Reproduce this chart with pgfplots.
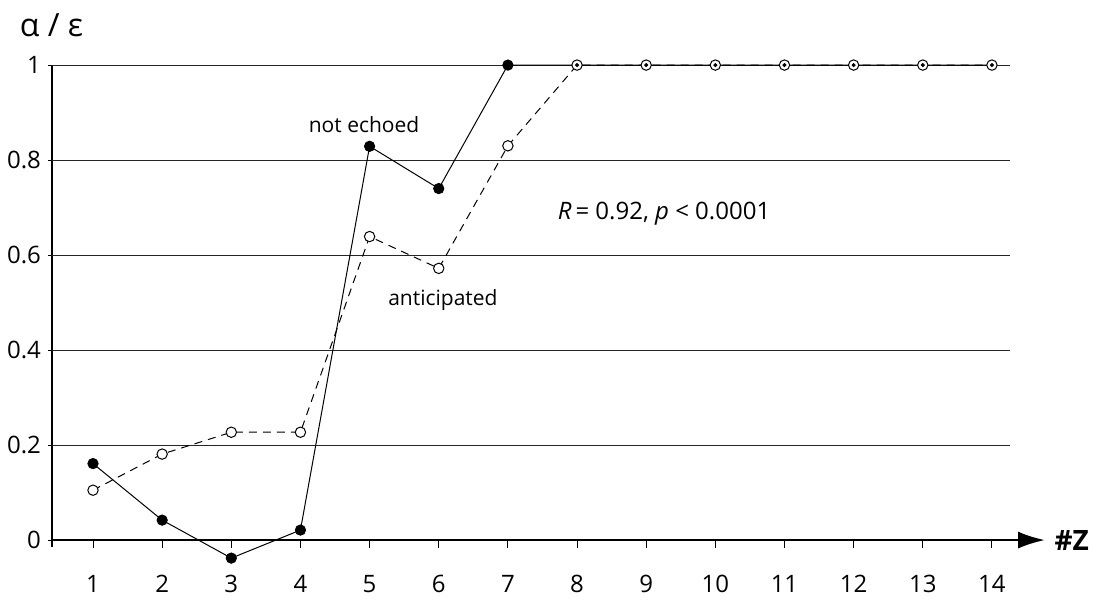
\documentclass[border=0pt]{standalone}
\usepackage{pgfplots}
\usepackage{pgfplotstable}
\pgfplotsset{compat=1.18}
\usepackage{fontspec}
\setmainfont{Open Sans}
\usetikzlibrary{arrows.meta}

% #Z, not echoed, anticipated
\pgfplotstableread{
z  echo   ant
1  0.161  0.105
2  0.042  0.181
3  -0.038 0.227
4  0.021  0.227
5  0.829  0.639
6  0.740  0.572
7  1.000  0.830
8  1.000  1.000
9  1.000  1.000
10 1.000  1.000
11 1.000  1.000
12 1.000  1.000
13 1.000  1.000
14 1.000  1.000
}\zdata

\begin{document}
\begin{tikzpicture}
\begin{axis}[
    x=34.575pt, y=237.5pt,
    xmin=0.407, xmax=14.77,
    ymin=-0.015, ymax=1,
    clip=false,
    axis x line=middle, axis y line=left,
    x axis line style={line width=1.3pt, -{Latex[length=13.5pt,width=8.5pt]}},
    y axis line style={line width=1.3pt, -},
    xtick={1,...,14},
    ytick={0,0.2,0.4,0.6,0.8,1},
    x tick style={line width=0.5pt, black},
    y tick style={line width=0.5pt, black},
    xtick align=outside, ytick align=center,
    major tick length=4pt,
    tick label style={font=\fontsize{12}{14}\selectfont},
    xticklabel style={yshift=-10pt},
    /pgf/number format/assume math mode=true,
]
% horizontal grid
\foreach \g in {0.2,0.4,0.6,0.8,1}{
  \edef\tmp{\noexpand\draw[black!85, line width=0.5pt] (axis cs:0.407,\g) -- (axis cs:14.26,\g);}
  \tmp
}
\addplot[black, line width=0.5pt, mark=none] table[x=z, y=echo] {\zdata};
\addplot[black, line width=0.5pt, dash pattern=on 4pt off 3pt,
    mark=*, mark size=2.6pt, mark options={solid, fill=white, line width=0.5pt}]
    table[x=z, y=ant] {\zdata};
\addplot[only marks, mark=*, mark size=2.6pt, black, restrict x to domain=1:7]
    table[x=z, y=echo] {\zdata};
\addplot[only marks, mark=*, mark size=0.8pt, black, restrict x to domain=8:14]
    table[x=z, y=echo] {\zdata};

\node[font=\fontsize{10.5}{13}\selectfont] at (axis cs:4.92,0.874) {not echoed};
\node[font=\fontsize{10.5}{13}\selectfont] at (axis cs:6.06,0.505) {anticipated};
\node[font=\fontsize{12}{14}\selectfont, anchor=west] at (axis cs:7.62,0.688)
    {\textit{R}\,= 0.92, \textit{p} < 0.0001};
\node[font=\fontsize{16}{18}\selectfont] at (axis cs:0.40,1.084) {α / ε};
\node[font=\fontsize{14}{16}\selectfont\bfseries, anchor=west, inner sep=0pt] at (axis cs:14.9,0) {\#Z};

\coordinate (bl) at (axis cs:-0.345,-0.128);
\coordinate (tr) at (axis cs:15.505,1.137);
\end{axis}
\path (bl) rectangle (tr);
\end{tikzpicture}
\end{document}
